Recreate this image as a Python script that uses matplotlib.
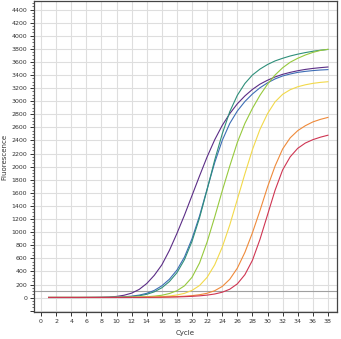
import matplotlib
matplotlib.use("Agg")
import matplotlib.pyplot as plt
from matplotlib.ticker import MultipleLocator, FuncFormatter

cycles = list(range(1, 39))

purple = [2, 2, 2, 2, 2, 3, 3, 5, 8, 18, 36, 68, 125, 215, 340, 500, 720, 980, 1260, 1560,
          1860, 2150, 2410, 2630, 2810, 2960, 3080, 3180, 3260, 3320, 3370, 3410, 3440, 3465,
          3485, 3500, 3512, 3522]
blue = [2, 2, 2, 2, 2, 2, 3, 3, 4, 7, 12, 22, 38, 65, 110, 180, 280, 420, 620, 900,
        1250, 1660, 2060, 2400, 2660, 2850, 2995, 3110, 3205, 3280, 3340, 3385, 3415, 3440,
        3455, 3467, 3476, 3482]
teal = [2, 2, 2, 2, 2, 2, 3, 3, 4, 6, 9, 16, 28, 50, 88, 150, 245, 380, 580, 860,
        1220, 1650, 2100, 2500, 2840, 3090, 3270, 3400, 3490, 3560, 3615, 3655, 3690, 3718,
        3742, 3762, 3778, 3790]
yellowgreen = [2, 2, 2, 2, 2, 2, 2, 2, 3, 3, 4, 6, 9, 14, 22, 36, 62, 105, 180, 310,
               530, 850, 1230, 1630, 2010, 2370, 2660, 2890, 3090, 3260, 3400, 3510, 3595, 3655,
               3705, 3745, 3775, 3792]
yellow = [2, 2, 2, 2, 2, 2, 2, 2, 2, 3, 3, 4, 5, 7, 10, 15, 24, 40, 65, 110,
          185, 310, 500, 770, 1110, 1500, 1890, 2260, 2570, 2810, 2990, 3105, 3175, 3220,
          3250, 3272, 3287, 3297]
orange = [2, 2, 2, 2, 2, 2, 2, 2, 2, 2, 3, 3, 4, 5, 6, 8, 11, 15, 21, 30,
          44, 66, 105, 170, 280, 450, 690, 990, 1330, 1690, 2010, 2270, 2440, 2550,
          2625, 2683, 2722, 2752]
red = [2, 2, 2, 2, 2, 2, 2, 2, 2, 2, 2, 3, 3, 4, 5, 6, 8, 10, 14, 19,
       27, 38, 55, 82, 128, 210, 350, 570, 890, 1265, 1640, 1950, 2150, 2280,
       2360, 2412, 2450, 2480]

series = [purple, blue, teal, yellowgreen, yellow, orange, red]
colors = ["#5b2d86", "#3d6db5", "#2f8f7a", "#96c93d", "#f2d94a", "#ef8a3a", "#cf3552"]

threshold = 100
x_ticks = list(range(0, 39, 2))
y_ticks = list(range(-200, 4401, 200))

fig = plt.figure(figsize=(3.41, 3.39), dpi=100)
ax = fig.add_axes([34 / 341, 1 - 312 / 339, (337 - 34) / 341, 311 / 339])

for s, c in zip(series, colors):
    ax.plot(cycles, s, color=c, linewidth=0.8, zorder=3)

ax.axhline(threshold, color="#a0a0a0", linewidth=0.8, zorder=2)

ax.set_xlim(-0.93, 39.2)
ax.set_ylim(-220, 4530)
ax.set_xticks(x_ticks)
ax.set_yticks(y_ticks)
ax.yaxis.set_minor_locator(MultipleLocator(50))
ax.yaxis.set_major_formatter(FuncFormatter(lambda v, p: "" if v < 0 else f"{int(v)}"))
ax.grid(True, which="major", color="#dedede", linewidth=0.8, zorder=0)
ax.set_axisbelow(True)

ax.tick_params(axis="both", which="major", labelsize=4.5, length=3, width=0.7,
               color="#333333", labelcolor="#333333", pad=2)
ax.tick_params(axis="y", which="minor", length=1.5, width=0.5, color="#333333")
for sp in ax.spines.values():
    sp.set_color("#444444")
    sp.set_linewidth(0.9)

ax.set_xlabel("Cycle", fontsize=5, color="#333333", labelpad=4)
ax.set_ylabel("Fluorescence", fontsize=5, color="#333333", labelpad=3)

fig.savefig("out.png", dpi=100)
